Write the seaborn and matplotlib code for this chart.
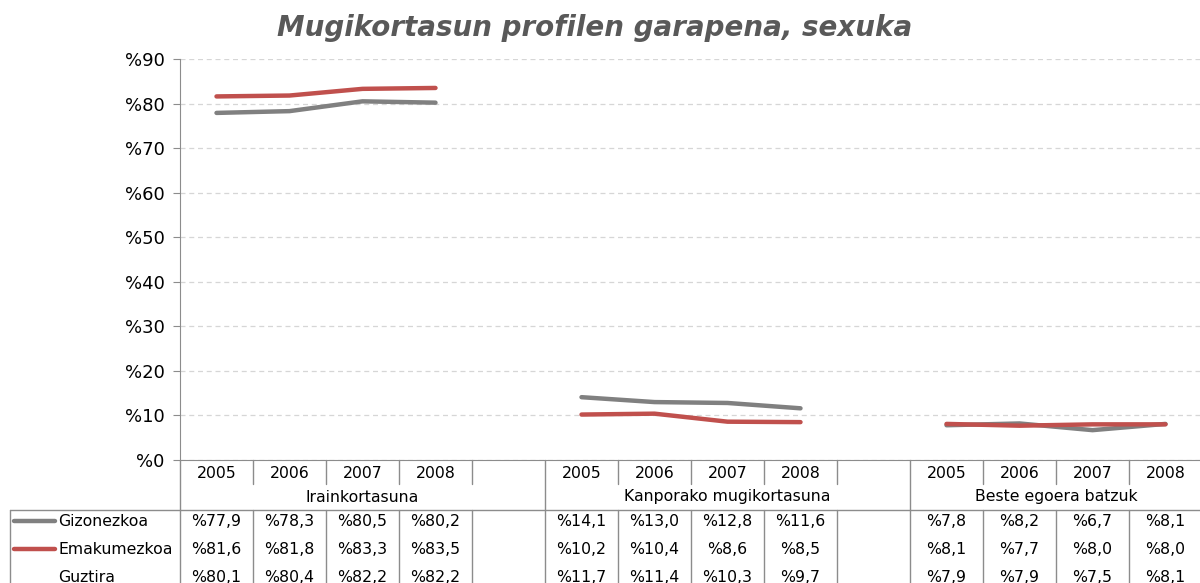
import numpy as np
import pandas as pd
import seaborn as sns
import matplotlib.pyplot as plt
import matplotlib.transforms as mtransforms

# chart values
categories = ['Irainkortasuna', 'Kanporako mugikortasuna', 'Beste egoera batzuk']
years = ['2005', '2006', '2007', '2008']
gizonezkoa = [77.9, 78.3, 80.5, 80.2, 14.1, 13.0, 12.8, 11.6, 7.8, 8.2, 6.7, 8.1]
emakumezkoa = [81.6, 81.8, 83.3, 83.5, 10.2, 10.4, 8.6, 8.5, 8.1, 7.7, 8.0, 8.0]
guztira = [80.1, 80.4, 82.2, 82.2, 11.7, 11.4, 10.3, 9.7, 7.9, 7.9, 7.5, 8.1]
series_names = ['Gizonezkoa', 'Emakumezkoa', 'Guztira']
yticks = [0, 10, 20, 30, 40, 50, 60, 70, 80, 90]

colors = {'Gizonezkoa': '#808080', 'Emakumezkoa': '#c0504d'}
border = '#8c8c8c'

sns.set_style('white')
plt.rcParams['font.family'] = ['DejaVu Sans']
plt.rcParams['text.color'] = 'black'

# one empty slot after each group of years
slot_w = len(years) + 1
rows = []
for g, cat in enumerate(categories):
    for i, yr in enumerate(years):
        k = g * len(years) + i
        for name, vals in zip(series_names, [gizonezkoa, emakumezkoa, guztira]):
            rows.append({'group': cat, 'slot': g * slot_w + i, 'year': yr,
                         'series': name, 'value': vals[k]})
df = pd.DataFrame(rows)

W, H = 1200, 583
fig = plt.figure(figsize=(W / 100, H / 100), dpi=100)
x0, x1, y_top, y_bot = 180, 1202, 59, 460
ax = fig.add_axes([x0 / W, 1 - y_bot / H, (x1 - x0) / W, (y_bot - y_top) / H])

plot_df = df[df['series'] != 'Guztira']
for cat in categories:
    sns.lineplot(data=plot_df[plot_df['group'] == cat], x='slot', y='value',
                 hue='series', hue_order=['Gizonezkoa', 'Emakumezkoa'],
                 palette=colors, linewidth=3.2, legend=False, ax=ax,
                 solid_capstyle='round')

xlim = (-0.5, 13.5)
ax.set_xlim(*xlim)
ax.set_ylim(0, 90)
ax.set_yticks(yticks)
ax.set_yticklabels([f'%{v}' for v in yticks], fontsize=13, color='black')
ax.set_xticks([])
ax.set_xlabel('')
ax.set_ylabel('')
ax.yaxis.grid(True, linestyle=(0, (4, 3)), color='#d6d6d6', linewidth=0.9)
ax.tick_params(axis='y', length=5, color=border, pad=6, left=True)
for s in ['top', 'right']:
    ax.spines[s].set_visible(False)
ax.spines['left'].set_color(border)
ax.spines['bottom'].set_color(border)

fig.text(595 / W, 1 - 28 / H, 'Mugikortasun profilen garapena, sexuka',
         ha='center', va='center', fontsize=20, fontweight='bold',
         fontstyle='italic', color='#595959')

# data table under the axis
ph = y_bot - y_top


def ay(py):
    return (y_bot - py) / ph


tr = mtransforms.blended_transform_factory(ax.transData, ax.transAxes)
trf = mtransforms.blended_transform_factory(fig.transFigure, ax.transAxes)
lk = dict(color=border, linewidth=1, clip_on=False)
fs = 11.3

for g, cat in enumerate(categories):
    start = g * slot_w - 0.5
    # group boundary: full height
    ax.plot([start, start], [ay(460), ay(600)], transform=tr, **lk)
    # year separators
    for j in range(1, slot_w):
        b = start + j
        if b < xlim[1]:
            ax.plot([b, b], [ay(460), ay(484)], transform=tr, **lk)
            ax.plot([b, b], [ay(510), ay(600)], transform=tr, **lk)
    for i, yr in enumerate(years):
        ax.text(g * slot_w + i, ay(473), yr, transform=tr, ha='center',
                va='center', fontsize=fs)
    end = min(start + slot_w, xlim[1])
    ax.text((start + end) / 2, ay(497), cat, transform=tr, ha='center',
            va='center', fontsize=fs)

ax.plot([10 / W, 1], [ay(510), ay(510)], transform=trf, **lk)
ax.plot([10 / W, 10 / W], [ay(510), ay(600)], transform=trf, **lk)

row_y = [521, 549, 577]
for r, name in enumerate(series_names):
    yy = ay(row_y[r])
    if name in colors:
        ax.plot([14 / W, 55 / W], [yy, yy], transform=trf, color=colors[name],
                linewidth=3.2, solid_capstyle='round', clip_on=False)
    ax.text(58 / W, yy, name, transform=trf, ha='left', va='center', fontsize=fs)
    sub = df[df['series'] == name]
    for _, rw in sub.iterrows():
        label = '%' + f"{rw['value']:.1f}".replace('.', ',')
        ax.text(rw['slot'], yy, label, transform=tr, ha='center', va='center',
                fontsize=fs)

fig.savefig('out.png', dpi=100)
